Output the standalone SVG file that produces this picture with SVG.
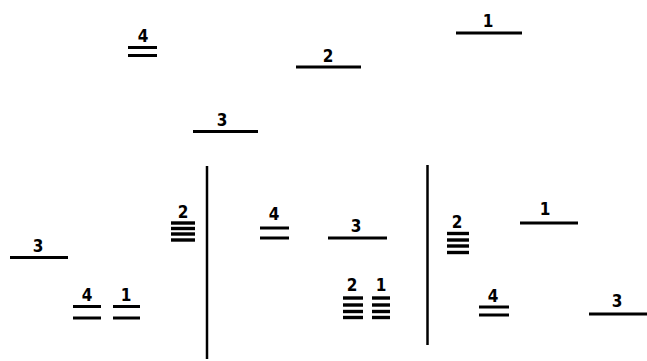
<svg xmlns="http://www.w3.org/2000/svg" width="647" height="361" viewBox="0 0 647 361">
<style>
.bg{fill:#fff}
.lv{stroke:#000;stroke-width:3;stroke-linecap:butt;fill:none}
.ml{stroke:#000;stroke-width:3.4;fill:none}
.sep{stroke:#000;stroke-width:2.5;fill:none}
text{font-family:"Liberation Sans Narrow","DejaVu Sans Condensed","Liberation Sans",sans-serif;font-weight:bold;font-size:17px;text-anchor:middle;fill:#000}
</style>
<rect class="bg" x="0" y="0" width="647" height="361"/>
<g id="separators">
<line class="sep" x1="207" y1="166" x2="207" y2="359"/>
<line class="sep" x1="427.5" y1="165" x2="427.5" y2="345"/>
</g>
<g id="top-4"><text x="143" y="42">4</text><line class="lv" x1="128" y1="47.5" x2="157" y2="47.5"/><line class="lv" x1="128" y1="55.5" x2="157" y2="55.5"/></g>
<g id="top-2"><text x="328" y="62">2</text><line class="lv" x1="296" y1="67" x2="361" y2="67"/></g>
<g id="top-1"><text x="488" y="27">1</text><line class="lv" x1="456" y1="33" x2="522" y2="33"/></g>
<g id="top-3"><text x="222" y="126">3</text><line class="lv" x1="193" y1="131.5" x2="258" y2="131.5"/></g>

<g id="a-3"><text x="38" y="252">3</text><line class="lv" x1="10" y1="257.5" x2="68" y2="257.5"/></g>
<g id="a-4"><text x="87" y="301">4</text><line class="lv" x1="73" y1="306.5" x2="101" y2="306.5"/><line class="lv" x1="73" y1="318" x2="101" y2="318"/></g>
<g id="a-1"><text x="126" y="301">1</text><line class="lv" x1="113" y1="306.5" x2="140" y2="306.5"/><line class="lv" x1="113" y1="318" x2="140" y2="318"/></g>
<g id="a-2"><text x="183" y="218">2</text><line class="ml" x1="171" y1="223" x2="195" y2="223"/><line class="ml" x1="171" y1="228.5" x2="195" y2="228.5"/><line class="ml" x1="171" y1="234" x2="195" y2="234"/><line class="ml" x1="171" y1="240" x2="195" y2="240"/></g>

<g id="b-4"><text x="274" y="220">4</text><line class="lv" x1="260" y1="228" x2="289" y2="228"/><line class="lv" x1="260" y1="238" x2="289" y2="238"/></g>
<g id="b-3"><text x="356" y="232">3</text><line class="lv" x1="328" y1="238" x2="387" y2="238"/></g>
<g id="b-2"><text x="352" y="291">2</text><line class="ml" x1="343" y1="298" x2="363" y2="298"/><line class="ml" x1="343" y1="305" x2="363" y2="305"/><line class="ml" x1="343" y1="311.5" x2="363" y2="311.5"/><line class="ml" x1="343" y1="317.5" x2="363" y2="317.5"/></g>
<g id="b-1"><text x="381" y="291">1</text><line class="ml" x1="372" y1="298" x2="390" y2="298"/><line class="ml" x1="372" y1="305" x2="390" y2="305"/><line class="ml" x1="372" y1="311.5" x2="390" y2="311.5"/><line class="ml" x1="372" y1="317.5" x2="390" y2="317.5"/></g>

<g id="c-2"><text x="457" y="228">2</text><line class="ml" x1="447" y1="233.5" x2="469" y2="233.5"/><line class="ml" x1="447" y1="240" x2="469" y2="240"/><line class="ml" x1="447" y1="246" x2="469" y2="246"/><line class="ml" x1="447" y1="252.5" x2="469" y2="252.5"/></g>
<g id="c-1"><text x="545" y="215">1</text><line class="lv" x1="520" y1="223" x2="578" y2="223"/></g>
<g id="c-4"><text x="493" y="302">4</text><line class="lv" x1="479" y1="307" x2="509" y2="307"/><line class="lv" x1="479" y1="315" x2="509" y2="315"/></g>
<g id="c-3"><text x="617" y="307">3</text><line class="lv" x1="589" y1="314" x2="647" y2="314"/></g>
</svg>
